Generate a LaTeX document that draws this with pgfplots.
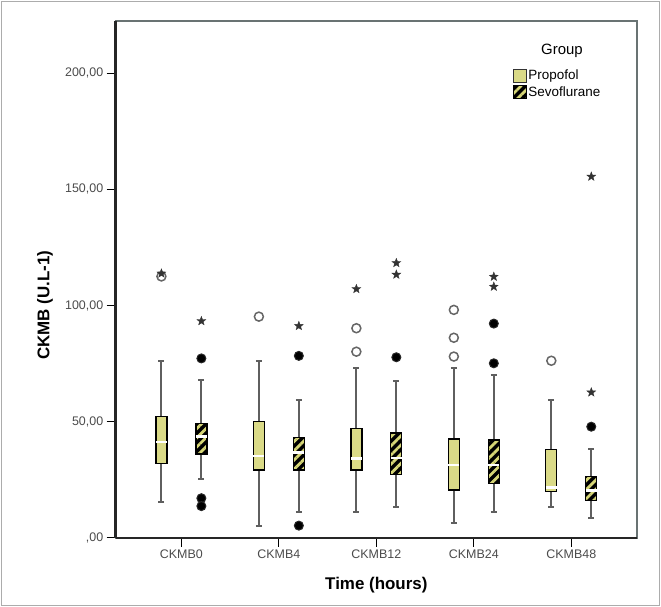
\documentclass[border=0pt]{standalone}
\usepackage{fontspec}
\setmainfont{Liberation Sans}
\usepackage{pgfplots}
\pgfplotsset{compat=1.18}
\usepgfplotslibrary{statistics}
\usetikzlibrary{patterns.meta}

\definecolor{prop}{RGB}{218,218,135}
\definecolor{stripe}{RGB}{214,214,118}
\definecolor{tickgray}{RGB}{75,75,75}
\definecolor{framegray}{RGB}{105,115,115}
\definecolor{whisk}{RGB}{95,95,95}

\pgfdeclareplotmark{fstar}{%
 \pgfpathmoveto{\pgfpointpolar{90}{\pgfplotmarksize}}%
 \pgfpathlineto{\pgfpointpolar{126}{0.42\pgfplotmarksize}}%
 \pgfpathlineto{\pgfpointpolar{162}{\pgfplotmarksize}}%
 \pgfpathlineto{\pgfpointpolar{198}{0.42\pgfplotmarksize}}%
 \pgfpathlineto{\pgfpointpolar{234}{\pgfplotmarksize}}%
 \pgfpathlineto{\pgfpointpolar{270}{0.42\pgfplotmarksize}}%
 \pgfpathlineto{\pgfpointpolar{306}{\pgfplotmarksize}}%
 \pgfpathlineto{\pgfpointpolar{342}{0.42\pgfplotmarksize}}%
 \pgfpathlineto{\pgfpointpolar{18}{\pgfplotmarksize}}%
 \pgfpathlineto{\pgfpointpolar{54}{0.42\pgfplotmarksize}}%
 \pgfpathclose
 \pgfusepathqfillstroke
}

\pgfplotsset{
 common box/.style={draw=black, line width=1.3bp, forget plot,
   boxplot/draw direction=y,
   boxplot/every median/.style={draw=white, line width=2.6bp},
   boxplot/every whisker/.style={draw=whisk, line width=2bp}},
 propbox/.style={common box, fill=prop},
 sevobox/.style={common box,
   boxplot/every box/.style={fill=black,
     postaction={pattern={Lines[angle=45,distance=6.5bp,line width=2.8bp]}, pattern color=stripe}}},
}

\begin{document}
\begin{tikzpicture}
\useasboundingbox (0,0) rectangle (661bp,607bp);
\draw[gray!65, line width=1.5bp] (1.5bp,1.5bp) rectangle (659.5bp,605.5bp);
\begin{axis}[
 at={(115.7bp,69.3bp)}, anchor=south west,
 scale only axis, width=521.3bp, height=516.7bp,
 xmin=-0.674, xmax=4.674, ymin=0, ymax=222.5,
 xtick={0,1,2,3,4}, xticklabels={CKMB0,CKMB4,CKMB12,CKMB24,CKMB48},
 ytick={0,50,100,150,200}, yticklabels={{,00},{50,00},{100,00},{150,00},{200,00}},
 tick pos=left, tick align=outside, major tick length=9bp,
 tick style={black, line width=1.2bp},
 ticklabel style={font=\fontsize{12.5}{14}\selectfont, text=tickgray},
 axis line style={framegray, line width=2bp},
 xlabel={Time (hours)}, ylabel={CKMB (U.L-1)},
 label style={font=\bfseries\fontsize{17}{20}\selectfont},
 x label style={at={(axis description cs:0.5,-0.0915)}, anchor=center},
 y label style={at={(axis description cs:-0.1356,0.45)}, anchor=center, rotate=0},
 clip=false,
 legend style={at={(0.756,0.912)}, anchor=north west, draw=none, fill=none,
   font=\fontsize{13.5}{16}\selectfont, row sep=2bp,
   nodes={inner sep=1.5bp}},
 legend cell align=left,
]
% CKMB0
\addplot[propbox, boxplot prepared={draw position=-0.205, lower whisker=15.2, lower quartile=32.0, median=41.2, upper quartile=52.1, upper whisker=76.1, box extend=0.113, whisker extend=0.06}] coordinates {};
\addplot[sevobox, boxplot prepared={draw position=0.205, lower whisker=25.1, lower quartile=36.0, median=43.5, upper quartile=49.3, upper whisker=67.9, box extend=0.113, whisker extend=0.06}] coordinates {};
% CKMB4
\addplot[propbox, boxplot prepared={draw position=0.795, lower whisker=5.0, lower quartile=29.2, median=35.2, upper quartile=50.0, upper whisker=76.1, box extend=0.113, whisker extend=0.06}] coordinates {};
\addplot[sevobox, boxplot prepared={draw position=1.205, lower whisker=11.2, lower quartile=29.2, median=36.8, upper quartile=43.1, upper whisker=59.2, box extend=0.113, whisker extend=0.06}] coordinates {};
% CKMB12
\addplot[propbox, boxplot prepared={draw position=1.795, lower whisker=11.2, lower quartile=29.2, median=34.2, upper quartile=46.9, upper whisker=73.2, box extend=0.113, whisker extend=0.06}] coordinates {};
\addplot[sevobox, boxplot prepared={draw position=2.205, lower whisker=13.4, lower quartile=27.3, median=34.4, upper quartile=45.1, upper whisker=67.4, box extend=0.113, whisker extend=0.06}] coordinates {};
% CKMB24
\addplot[propbox, boxplot prepared={draw position=2.795, lower whisker=6.2, lower quartile=20.5, median=31.3, upper quartile=42.5, upper whisker=72.9, box extend=0.113, whisker extend=0.06}] coordinates {};
\addplot[sevobox, boxplot prepared={draw position=3.205, lower whisker=11.2, lower quartile=23.4, median=31.3, upper quartile=42.1, upper whisker=70.1, box extend=0.113, whisker extend=0.06}] coordinates {};
% CKMB48
\addplot[propbox, boxplot prepared={draw position=3.795, lower whisker=13.4, lower quartile=19.8, median=21.5, upper quartile=38.1, upper whisker=59.3, box extend=0.113, whisker extend=0.06}] coordinates {};
\addplot[sevobox, boxplot prepared={draw position=4.205, lower whisker=8.3, lower quartile=15.9, median=20.3, upper quartile=26.3, upper whisker=38.1, box extend=0.113, whisker extend=0.06}] coordinates {};

% Propofol outliers (open circles)
\addplot[only marks, forget plot, mark=*, mark size=4.5bp, mark options={fill=white, draw=gray!80!black, line width=1.5bp}] coordinates {
 (-0.205,112.5) (0.795,95.2) (1.795,90.2) (1.795,80.1) (2.795,98.1) (2.795,86.1) (2.795,78.0) (3.795,76.2)};
% Propofol extremes (stars)
\addplot[only marks, forget plot, mark=fstar, mark size=4.6bp, mark options={fill=black!80, draw=black!80, line width=0.4bp}] coordinates {
 (-0.205,113.8) (1.795,107.1)};
% Sevoflurane outliers (filled circles)
\addplot[only marks, forget plot, mark=*, mark size=4.5bp, mark options={fill=black, draw=black!85, line width=1bp}] coordinates {
 (0.205,77.2) (0.205,17.0) (0.205,13.6) (1.205,78.3) (1.205,5.2) (2.205,77.7) (3.205,92.2) (3.205,75.1) (4.205,47.8)};
% Sevoflurane extremes (stars)
\addplot[only marks, forget plot, mark=fstar, mark size=4.6bp, mark options={fill=black!80, draw=black!80, line width=0.4bp}] coordinates {
 (0.205,93.3) (1.205,91.2) (2.205,118.3) (2.205,113.3) (3.205,112.4) (3.205,108.1) (4.205,155.5) (4.205,62.6)};

\addlegendimage{legend image code/.code={\draw[fill=prop, draw=black!80, line width=1bp] (0bp,-6.5bp) rectangle (13bp,6.5bp);}}
\addlegendentry{Propofol}
\addlegendimage{legend image code/.code={\draw[fill=black, draw=black, line width=1bp, postaction={pattern={Lines[angle=45,distance=6.5bp,line width=2.8bp]}, pattern color=stripe}] (0bp,-6.5bp) rectangle (13bp,6.5bp);}}
\addlegendentry{Sevoflurane}

\draw[black!85, line width=3bp] (rel axis cs:0,1) -- (rel axis cs:0,0);
\draw[black!85, line width=2bp] (rel axis cs:0,0) -- (rel axis cs:1,0);
\node[font=\fontsize{15}{18}\selectfont, anchor=center] at (axis description cs:0.856,0.943) {Group};
\end{axis}
\end{tikzpicture}
\end{document}
